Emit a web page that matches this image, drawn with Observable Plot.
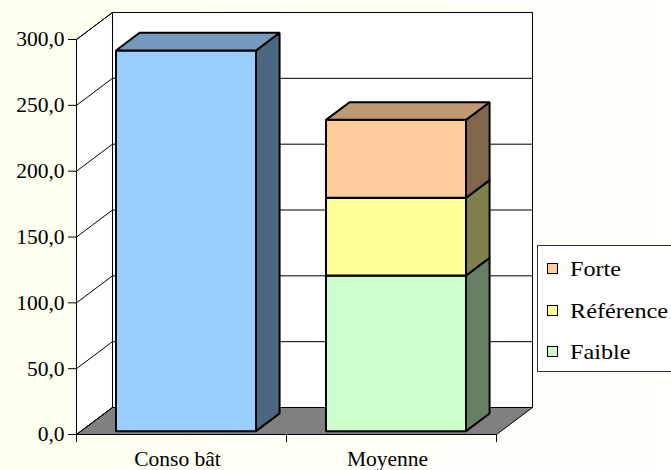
<!DOCTYPE html>
<html>
<head>
<meta charset="utf-8">
<script src="https://cdn.jsdelivr.net/npm/d3@7"></script>
<script src="https://cdn.jsdelivr.net/npm/@observablehq/plot@0.6"></script>
<style>
  html, body { margin: 0; padding: 0; }
  #chart {
    position: relative; width: 671px; height: 470px; overflow: hidden;
    background: linear-gradient(to right, #fdfdee, #fffff8 60%, #fffffb);
    font-family: "Liberation Serif", "Times New Roman", serif;
  }
  #legend {
    position: absolute; left: 537px; top: 245px; width: 150px; height: 125px;
    background: #ffffff; border: 1px solid #333;
  }
  .item { position: absolute; left: 9px; height: 22px; }
  .sw { position: absolute; left: 0; width: 9px; height: 9px; border: 1px solid #000; }
  .lab {
    position: absolute; left: 23px; white-space: nowrap; font-size: 22px; line-height: 22px;
    transform: scaleX(1.1); transform-origin: left center; color: #000;
  }
</style>
</head>
<body>
<div id="chart"></div>
<script>
// Categories on the horizontal axis
const categories = ["Conso bât", "Moyenne"];
// Single series for the building consumption
const consoBat = [289.1];
const consoColor = "#99CCFF";
// Stacked bands of the average, bottom to top
const series = ["Faible", "Référence", "Forte"];
const moyenne = [118.2, 59.0, 59.2];
const seriesColors = ["#CCFFCC", "#FFFF99", "#FFCC99"];
// Value axis ticks
const yTicks = [0, 50, 100, 150, 200, 250, 300];

// Oblique depth of the 3D box, expressed in scale units (x per category, y per value)
const DEPTH_X = 0.1714;
const DEPTH_Y = 20.5;
const BAR_HALF = 1 / 3;          // half bar width, in category units
const Z_FRONT = 0.125, Z_BACK = 0.78;  // bar depth within the box
const X_MAX = categories.length;
const Y_MAX = 300;

const P = (x, y, z) => ({x: x + z * DEPTH_X, y: y + z * DEPTH_Y});
const shade = (c, k) => { const r = d3.rgb(c); return d3.rgb(r.r * k, r.g * k, r.b * k).formatHex(); };

// Bar segments: one for Conso bât, a stack for Moyenne
const segments = [{cat: 0, y0: 0, y1: consoBat[0], color: consoColor}];
let acc = 0;
moyenne.forEach((v, i) => {
  segments.push({cat: 1, y0: acc, y1: acc + v, color: seriesColors[i]});
  acc += v;
});

function poly(points, fill, strokeWidth = 1) {
  return Plot.line(points, {x: "x", y: "y", fill, stroke: "#000", strokeWidth,
    strokeLinejoin: "miter", strokeLinecap: "butt", curve: "linear-closed"});
}

const marks = [];
// Back wall and left wall
marks.push(poly([P(0, 0, 1), P(X_MAX, 0, 1), P(X_MAX, Y_MAX, 1), P(0, Y_MAX, 1)], "#ffffff"));
marks.push(poly([P(0, 0, 0), P(0, 0, 1), P(0, Y_MAX, 1), P(0, Y_MAX, 0)], "#ffffff"));
// Floor
marks.push(poly([P(0, 0, 0), P(X_MAX, 0, 0), P(X_MAX, 0, 1), P(0, 0, 1)], "#808080"));
// Gridlines on the back wall and the left wall
marks.push(Plot.link(yTicks, {
  x1: () => P(0, 0, 1).x, x2: () => P(X_MAX, 0, 1).x,
  y1: d => P(0, d, 1).y, y2: d => P(0, d, 1).y, stroke: "#000", strokeWidth: 1
}));
marks.push(Plot.link(yTicks, {
  x1: () => P(0, 0, 0).x, x2: () => P(0, 0, 1).x,
  y1: d => P(0, d, 0).y, y2: d => P(0, d, 1).y, stroke: "#000", strokeWidth: 1
}));
// Bars: front, right side and top faces
for (const s of segments) {
  const x0 = s.cat + 0.5 - BAR_HALF, x1 = s.cat + 0.5 + BAR_HALF;
  marks.push(poly([P(x0, s.y0, Z_FRONT), P(x1, s.y0, Z_FRONT), P(x1, s.y1, Z_FRONT), P(x0, s.y1, Z_FRONT)], s.color, 2));
  marks.push(poly([P(x1, s.y0, Z_FRONT), P(x1, s.y0, Z_BACK), P(x1, s.y1, Z_BACK), P(x1, s.y1, Z_FRONT)], shade(s.color, 0.5), 2));
  marks.push(poly([P(x0, s.y1, Z_FRONT), P(x1, s.y1, Z_FRONT), P(x1, s.y1, Z_BACK), P(x0, s.y1, Z_BACK)], shade(s.color, 0.75), 2));
}
// Axes
marks.push(Plot.axisY({ticks: yTicks, tickSize: 8, tickPadding: 4, label: null,
  tickFormat: d => d.toFixed(1).replace(".", ","), stroke: "#000", fill: "#000"}));
marks.push(Plot.axisX({ticks: d3.range(X_MAX + 1), tickSize: 8, label: null,
  tickFormat: () => "", stroke: "#000"}));
marks.push(Plot.ruleX([0], {y1: 0, y2: Y_MAX, stroke: "#000", strokeWidth: 1}));
marks.push(Plot.ruleY([0], {x1: 0, x2: X_MAX, stroke: "#000", strokeWidth: 1}));
marks.push(Plot.text(categories, {x: (d, i) => i + 0.5, y: () => 0, text: d => d,
  dy: 25, dx: -4, fill: "#000"}));

const plot = Plot.plot({
  width: 671, height: 470,
  marginLeft: 76, marginRight: 175, marginTop: 39, marginBottom: 36,
  x: {domain: [0, X_MAX]},
  y: {domain: [0, Y_MAX]},
  style: {background: "transparent", overflow: "visible", color: "#000",
    fontFamily: "'Liberation Serif', 'Times New Roman', serif", fontSize: "21.5px"},
  marks
});
const chart = document.getElementById("chart");
chart.appendChild(plot);

// Legend, top series first
const legend = document.createElement("div");
legend.id = "legend";
const order = series.map((s, i) => i).reverse();
order.forEach((si, row) => {
  const item = document.createElement("div");
  item.className = "item";
  item.style.top = (12 + row * 41.5) + "px";
  const sw = document.createElement("div");
  sw.className = "sw";
  sw.style.top = "5px";
  sw.style.background = seriesColors[si];
  const lab = document.createElement("div");
  lab.className = "lab";
  lab.style.top = "0px";
  lab.textContent = series[si];
  item.appendChild(sw);
  item.appendChild(lab);
  legend.appendChild(item);
});
chart.appendChild(legend);
</script>
</body>
</html>
